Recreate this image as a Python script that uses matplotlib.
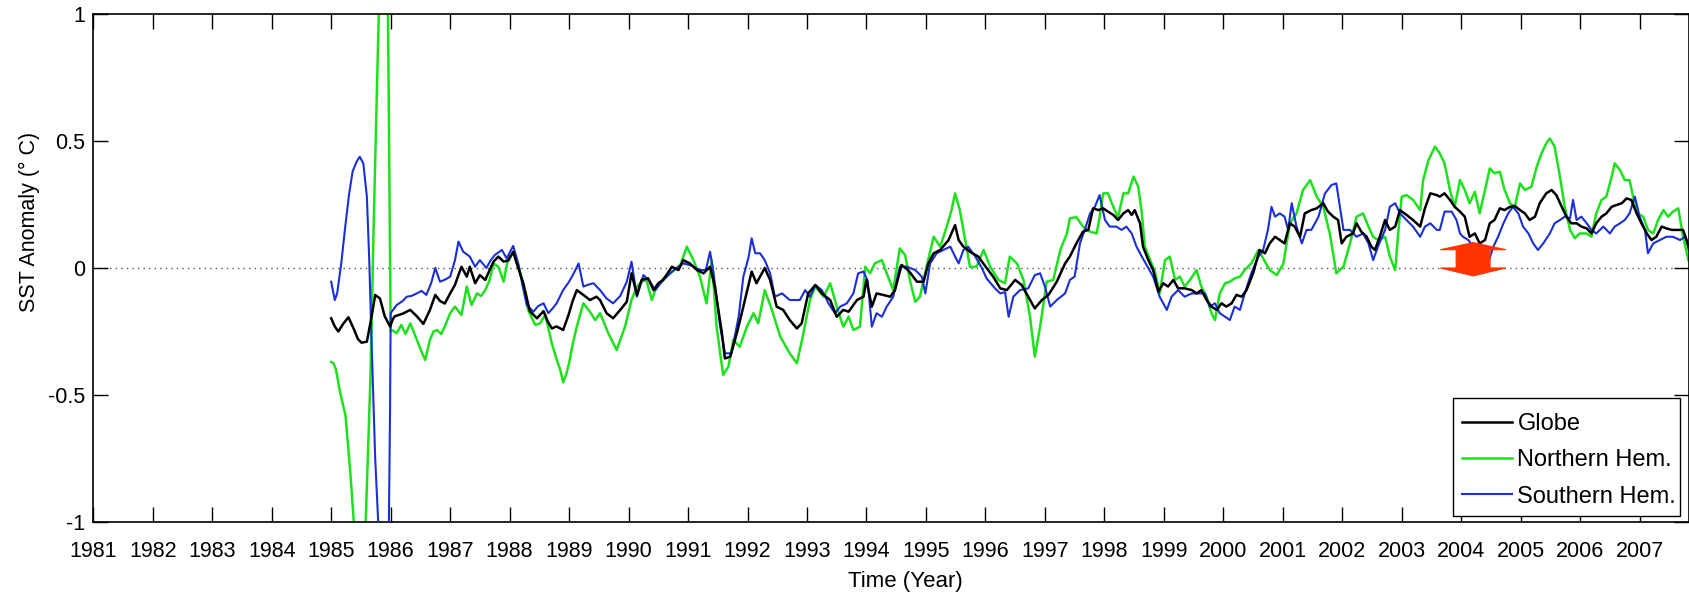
import numpy as np
import matplotlib
matplotlib.use('Agg')
import matplotlib.pyplot as plt
from matplotlib.patches import Polygon, Rectangle

plt.rcParams['font.family'] = ['Liberation Sans', 'DejaVu Sans']
plt.rcParams['axes.unicode_minus'] = False

# ── Globe ─────────────────────────────────────────────────────
globe_t = [
    1985.0, 1985.06, 1985.12, 1985.2, 1985.29, 1985.38, 1985.45, 1985.51, 1985.6, 1985.68,
    1985.74, 1985.82, 1985.9, 1985.99, 1986.04, 1986.07, 1986.2, 1986.33, 1986.44, 1986.55,
    1986.66, 1986.75, 1986.83, 1986.91, 1987.0, 1987.08, 1987.19, 1987.28, 1987.33, 1987.42,
    1987.5, 1987.59, 1987.66, 1987.73, 1987.81, 1987.9, 1987.98, 1988.06, 1988.12, 1988.23,
    1988.34, 1988.46, 1988.57, 1988.64, 1988.71, 1988.79, 1988.9, 1988.99, 1989.06, 1989.13,
    1989.24, 1989.35, 1989.46, 1989.52, 1989.63, 1989.74, 1989.86, 1989.97, 1990.05, 1990.14,
    1990.22, 1990.33, 1990.42, 1990.5, 1990.58, 1990.73, 1990.84, 1990.92, 1991.03, 1991.15,
    1991.26, 1991.37, 1991.45, 1991.57, 1991.62, 1991.71, 1991.82, 1991.93, 1992.07, 1992.15,
    1992.29, 1992.38, 1992.49, 1992.6, 1992.71, 1992.83, 1992.91, 1993.02, 1993.14, 1993.25,
    1993.39, 1993.5, 1993.61, 1993.7, 1993.84, 1993.95, 1994.0, 1994.09, 1994.17, 1994.28,
    1994.4, 1994.48, 1994.59, 1994.7, 1994.85, 1994.96, 1995.04, 1995.13, 1995.24, 1995.38,
    1995.49, 1995.55, 1995.63, 1995.74, 1995.88, 1996.02, 1996.13, 1996.25, 1996.36, 1996.5,
    1996.61, 1996.72, 1996.83, 1996.95, 1997.06, 1997.2, 1997.34, 1997.42, 1997.53, 1997.64,
    1997.73, 1997.81, 1997.9, 1997.98, 1998.06, 1998.15, 1998.23, 1998.32, 1998.4, 1998.46,
    1998.51, 1998.6, 1998.65, 1998.74, 1998.82, 1998.91, 1998.99, 1999.07, 1999.16, 1999.24,
    1999.35, 1999.47, 1999.55, 1999.63, 1999.72, 1999.8, 1999.89, 1999.97, 2000.05, 2000.14,
    2000.22, 2000.31, 2000.39, 2000.5, 2000.61, 2000.7, 2000.78, 2000.87, 2000.95, 2001.03,
    2001.12, 2001.2, 2001.29, 2001.37, 2001.48, 2001.57, 2001.68, 2001.76, 2001.85, 2001.93,
    2001.99, 2002.07, 2002.18, 2002.24, 2002.32, 2002.41, 2002.49, 2002.55, 2002.63, 2002.72,
    2002.8, 2002.89, 2002.97, 2003.08, 2003.19, 2003.31, 2003.39, 2003.48, 2003.59, 2003.64,
    2003.72, 2003.81, 2003.89, 2003.98, 2004.06, 2004.14, 2004.23, 2004.31, 2004.4, 2004.48,
    2004.56, 2004.65, 2004.73, 2004.82, 2004.9, 2004.99, 2005.07, 2005.15, 2005.24, 2005.32,
    2005.43, 2005.52, 2005.6, 2005.69, 2005.77, 2005.85, 2005.94, 2006.02, 2006.11, 2006.19,
    2006.27, 2006.36, 2006.44, 2006.53, 2006.61, 2006.7, 2006.78, 2006.86, 2006.95, 2007.03,
    2007.12, 2007.2, 2007.28, 2007.37, 2007.45, 2007.54, 2007.65, 2007.73, 2007.79, 2007.83,
]
globe_v = [
    -0.198, -0.23, -0.25, -0.22, -0.194, -0.24, -0.28, -0.294, -0.29, -0.19,
    -0.106, -0.12, -0.19, -0.23, -0.20, -0.19, -0.18, -0.165, -0.19, -0.22,
    -0.165, -0.106, -0.13, -0.14, -0.10, -0.067, 0.005, -0.034, 0.005, -0.06,
    -0.028, -0.047, -0.01, 0.025, 0.045, 0.025, 0.03, 0.064, 0.018, -0.06,
    -0.17, -0.198, -0.17, -0.21, -0.238, -0.23, -0.244, -0.185, -0.13, -0.087,
    -0.106, -0.126, -0.113, -0.126, -0.178, -0.198, -0.165, -0.133, -0.021, -0.106,
    -0.047, -0.041, -0.087, -0.06, -0.047, 0.005, -0.008, 0.031, 0.018, -0.008,
    -0.021, 0.005, -0.073, -0.257, -0.356, -0.349, -0.257, -0.152, -0.014, -0.06,
    0.0, -0.047, -0.152, -0.165, -0.205, -0.238, -0.218, -0.10, -0.067, -0.10,
    -0.126, -0.192, -0.165, -0.172, -0.126, -0.113, -0.047, -0.152, -0.10, -0.106,
    -0.113, -0.087, 0.012, -0.008, -0.054, -0.054, 0.018, 0.058, 0.071, 0.11,
    0.169, 0.11, 0.084, 0.064, 0.045, 0.0, -0.034, -0.08, -0.087, -0.047,
    -0.067, -0.113, -0.159, -0.126, -0.106, -0.054, 0.018, 0.045, 0.097, 0.143,
    0.15, 0.235, 0.228, 0.235, 0.222, 0.209, 0.189, 0.215, 0.228, 0.209,
    0.228, 0.176, 0.084, 0.031, -0.008, -0.093, -0.06, -0.073, -0.047, -0.08,
    -0.08, -0.087, -0.10, -0.087, -0.126, -0.152, -0.165, -0.139, -0.152, -0.139,
    -0.106, -0.113, -0.087, -0.021, 0.071, 0.058, 0.097, 0.123, 0.11, 0.097,
    0.176, 0.163, 0.123, 0.215, 0.228, 0.235, 0.255, 0.222, 0.202, 0.189,
    0.097, 0.123, 0.136, 0.176, 0.143, 0.123, 0.084, 0.071, 0.123, 0.189,
    0.15, 0.163, 0.228, 0.209, 0.189, 0.163, 0.235, 0.294, 0.287, 0.281,
    0.294, 0.268, 0.241, 0.222, 0.202, 0.123, 0.136, 0.097, 0.11, 0.176,
    0.189, 0.235, 0.228, 0.241, 0.244, 0.228, 0.215, 0.189, 0.202, 0.255,
    0.294, 0.307, 0.287, 0.241, 0.202, 0.176, 0.176, 0.163, 0.156, 0.136,
    0.176, 0.202, 0.215, 0.241, 0.248, 0.255, 0.274, 0.268, 0.215, 0.176,
    0.136, 0.11, 0.123, 0.163, 0.156, 0.15, 0.15, 0.15, 0.11, 0.071,
]

# ── Northern Hemisphere ───────────────────────────────────────
north_t = [
    1985.0, 1985.04, 1985.08, 1985.15, 1985.24, 1985.32, 1985.38, 1985.45, 1985.52, 1985.58,
    1985.66, 1985.72, 1985.8, 1985.86, 1985.93, 1985.955, 1985.98, 1986.0, 1986.02, 1986.1,
    1986.18, 1986.25, 1986.33, 1986.44, 1986.52, 1986.58, 1986.66, 1986.72, 1986.78, 1986.85,
    1986.91, 1987.0, 1987.08, 1987.19, 1987.28, 1987.36, 1987.45, 1987.52, 1987.59, 1987.66,
    1987.73, 1987.81, 1987.9, 1987.98, 1988.09, 1988.17, 1988.24, 1988.31, 1988.43, 1988.51,
    1988.6, 1988.71, 1988.79, 1988.85, 1988.9, 1988.95, 1989.0, 1989.06, 1989.13, 1989.24,
    1989.35, 1989.44, 1989.52, 1989.66, 1989.8, 1989.94, 1990.05, 1990.14, 1990.22, 1990.3,
    1990.39, 1990.47, 1990.59, 1990.7, 1990.87, 1990.98, 1991.09, 1991.2, 1991.31, 1991.4,
    1991.48, 1991.59, 1991.68, 1991.76, 1991.87, 1991.99, 1992.1, 1992.18, 1992.29, 1992.41,
    1992.55, 1992.71, 1992.83, 1992.94, 1993.05, 1993.14, 1993.28, 1993.39, 1993.5, 1993.61,
    1993.7, 1993.78, 1993.89, 1993.98, 1994.06, 1994.14, 1994.26, 1994.34, 1994.45, 1994.56,
    1994.65, 1994.73, 1994.82, 1994.9, 1995.01, 1995.13, 1995.24, 1995.35, 1995.43, 1995.49,
    1995.57, 1995.66, 1995.74, 1995.85, 1995.97, 1996.08, 1996.22, 1996.33, 1996.41, 1996.53,
    1996.64, 1996.75, 1996.83, 1996.92, 1997.03, 1997.14, 1997.26, 1997.37, 1997.42, 1997.53,
    1997.64, 1997.76, 1997.87, 1997.92, 1997.98, 1998.06, 1998.15, 1998.23, 1998.32, 1998.4,
    1998.49, 1998.57, 1998.63, 1998.68, 1998.77, 1998.85, 1998.93, 1999.02, 1999.1, 1999.19,
    1999.27, 1999.35, 1999.44, 1999.55, 1999.63, 1999.72, 1999.8, 1999.86, 1999.94, 2000.03,
    2000.11, 2000.19, 2000.28, 2000.36, 2000.47, 2000.59, 2000.67, 2000.78, 2000.9, 2001.01,
    2001.12, 2001.23, 2001.34, 2001.46, 2001.57, 2001.68, 2001.79, 2001.9, 2002.02, 2002.13,
    2002.24, 2002.35, 2002.44, 2002.52, 2002.6, 2002.72, 2002.8, 2002.89, 2002.94, 2003.0,
    2003.08, 2003.19, 2003.31, 2003.36, 2003.45, 2003.56, 2003.64, 2003.72, 2003.81, 2003.89,
    2003.98, 2004.06, 2004.14, 2004.23, 2004.31, 2004.4, 2004.48, 2004.56, 2004.65, 2004.73,
    2004.82, 2004.9, 2004.99, 2005.07, 2005.18, 2005.27, 2005.35, 2005.43, 2005.49, 2005.57,
    2005.66, 2005.74, 2005.83, 2005.91, 2005.99, 2006.11, 2006.19, 2006.27, 2006.36, 2006.44,
    2006.53, 2006.58, 2006.67, 2006.75, 2006.83, 2006.89, 2006.97, 2007.06, 2007.14, 2007.23,
    2007.31, 2007.4, 2007.48, 2007.56, 2007.65, 2007.73, 2007.82,
]
north_v = [
    -0.37, -0.375, -0.40, -0.49, -0.58, -0.80, -1.0, -1.25, -1.2, -1.0,
    -0.43, 0.23, 1.0, 1.4, 1.3, 1.0, 0.3, -0.25, -0.244, -0.257,
    -0.224, -0.26, -0.218, -0.283, -0.33, -0.362, -0.283, -0.25, -0.244, -0.26,
    -0.23, -0.178, -0.152, -0.185, -0.073, -0.146, -0.10, -0.11, -0.087, -0.05,
    0.018, 0.005, -0.054, 0.045, 0.058, -0.008, -0.09, -0.165, -0.224, -0.218,
    -0.185, -0.297, -0.36, -0.40, -0.45, -0.42, -0.375, -0.30, -0.23, -0.139,
    -0.172, -0.205, -0.178, -0.257, -0.323, -0.231, -0.126, -0.073, -0.054, -0.047,
    -0.126, -0.073, -0.041, -0.021, 0.012, 0.084, 0.031, -0.034, -0.139, 0.031,
    -0.231, -0.421, -0.388, -0.283, -0.31, -0.231, -0.178, -0.218, -0.087, -0.165,
    -0.27, -0.336, -0.375, -0.257, -0.126, -0.073, -0.113, -0.06, -0.152, -0.231,
    -0.192, -0.244, -0.231, 0.005, -0.021, 0.018, 0.031, -0.021, -0.087, 0.077,
    0.051, -0.047, -0.133, -0.113, 0.005, 0.123, 0.084, 0.163, 0.228, 0.294,
    0.228, 0.11, 0.005, 0.005, 0.071, 0.005, -0.047, -0.06, 0.045, 0.018,
    -0.047, -0.192, -0.349, -0.231, -0.054, -0.047, 0.071, 0.136, 0.196, 0.20,
    0.163, 0.143, 0.136, 0.20, 0.294, 0.294, 0.241, 0.20, 0.294, 0.294,
    0.36, 0.32, 0.215, 0.084, 0.031, -0.014, -0.10, 0.031, 0.045, -0.047,
    -0.034, -0.073, -0.047, -0.008, -0.073, -0.113, -0.178, -0.205, -0.10, -0.06,
    -0.054, -0.041, -0.034, -0.008, 0.018, 0.071, 0.038, -0.008, -0.028, 0.018,
    0.176, 0.215, 0.307, 0.346, 0.281, 0.241, 0.136, -0.021, 0.005, 0.097,
    0.202, 0.215, 0.163, 0.123, 0.11, 0.123, 0.045, -0.008, 0.136, 0.281,
    0.287, 0.268, 0.228, 0.346, 0.425, 0.478, 0.451, 0.412, 0.307, 0.241,
    0.346, 0.307, 0.255, 0.30, 0.215, 0.307, 0.392, 0.373, 0.379, 0.307,
    0.255, 0.241, 0.333, 0.307, 0.32, 0.399, 0.451, 0.491, 0.51, 0.478,
    0.36, 0.241, 0.15, 0.117, 0.136, 0.136, 0.123, 0.215, 0.268, 0.281,
    0.36, 0.412, 0.386, 0.346, 0.346, 0.281, 0.215, 0.202, 0.15, 0.136,
    0.189, 0.228, 0.202, 0.222, 0.235, 0.123, 0.031,
]

# ── Southern Hemisphere ───────────────────────────────────────
south_t = [
    1985.0, 1985.06, 1985.1, 1985.17, 1985.23, 1985.3, 1985.36, 1985.43, 1985.48, 1985.54,
    1985.6, 1985.64, 1985.68, 1985.74, 1985.8, 1985.87, 1985.93, 1985.97, 1985.99, 1986.0,
    1986.1, 1986.2, 1986.27, 1986.35, 1986.44, 1986.52, 1986.6, 1986.68, 1986.75, 1986.83,
    1986.92, 1987.0, 1987.08, 1987.14, 1987.22, 1987.33, 1987.42, 1987.5, 1987.61, 1987.68,
    1987.75, 1987.87, 1987.95, 1988.06, 1988.15, 1988.22, 1988.29, 1988.4, 1988.48, 1988.57,
    1988.65, 1988.72, 1988.79, 1988.9, 1989.0, 1989.08, 1989.16, 1989.24, 1989.33, 1989.41,
    1989.52, 1989.63, 1989.74, 1989.86, 1989.97, 1990.05, 1990.14, 1990.25, 1990.35, 1990.45,
    1990.56, 1990.7, 1990.81, 1990.92, 1991.05, 1991.2, 1991.3, 1991.37, 1991.43, 1991.54,
    1991.62, 1991.73, 1991.85, 1991.93, 1992.02, 1992.07, 1992.13, 1992.21, 1992.29, 1992.38,
    1992.46, 1992.58, 1992.71, 1992.88, 1992.97, 1993.05, 1993.14, 1993.25, 1993.36, 1993.47,
    1993.56, 1993.67, 1993.78, 1993.86, 1993.95, 1994.02, 1994.09, 1994.17, 1994.26, 1994.34,
    1994.45, 1994.56, 1994.68, 1994.82, 1994.93, 1994.99, 1995.07, 1995.18, 1995.29, 1995.41,
    1995.49, 1995.55, 1995.63, 1995.71, 1995.83, 1995.94, 1996.02, 1996.16, 1996.25, 1996.33,
    1996.39, 1996.47, 1996.58, 1996.72, 1996.83, 1996.92, 1997.0, 1997.09, 1997.2, 1997.34,
    1997.42, 1997.5, 1997.59, 1997.67, 1997.76, 1997.84, 1997.92, 1998.01, 1998.09, 1998.2,
    1998.29, 1998.37, 1998.46, 1998.54, 1998.63, 1998.71, 1998.82, 1998.93, 1999.05, 1999.13,
    1999.24, 1999.35, 1999.47, 1999.58, 1999.69, 1999.77, 1999.86, 1999.94, 2000.03, 2000.11,
    2000.19, 2000.28, 2000.36, 2000.47, 2000.59, 2000.67, 2000.75, 2000.81, 2000.87, 2000.95,
    2001.03, 2001.09, 2001.15, 2001.23, 2001.32, 2001.4, 2001.48, 2001.6, 2001.71, 2001.82,
    2001.9, 2001.96, 2002.02, 2002.13, 2002.24, 2002.35, 2002.44, 2002.52, 2002.6, 2002.72,
    2002.8, 2002.89, 2002.97, 2003.08, 2003.19, 2003.31, 2003.39, 2003.48, 2003.59, 2003.64,
    2003.72, 2003.84, 2003.92, 2003.98, 2004.03, 2004.12, 2004.2, 2004.28, 2004.37, 2004.45,
    2004.54, 2004.62, 2004.71, 2004.79, 2004.87, 2004.96, 2005.04, 2005.13, 2005.21, 2005.29,
    2005.38, 2005.49, 2005.57, 2005.66, 2005.74, 2005.83, 2005.88, 2005.94, 2006.02, 2006.11,
    2006.19, 2006.27, 2006.39, 2006.5, 2006.58, 2006.67, 2006.75, 2006.83, 2006.92, 2007.0,
    2007.09, 2007.14, 2007.23, 2007.34, 2007.45, 2007.56, 2007.68, 2007.76, 2007.83,
]
south_v = [
    -0.054, -0.126, -0.10, 0.02, 0.15, 0.29, 0.38, 0.42, 0.438, 0.412,
    0.28, 0.03, -0.30, -0.75, -1.05, -1.35, -1.25, -1.0, -0.55, -0.178,
    -0.146, -0.13, -0.113, -0.11, -0.10, -0.09, -0.106, -0.06, 0.0, -0.054,
    -0.045, -0.034, 0.03, 0.104, 0.064, 0.045, 0.005, 0.031, 0.0, 0.03,
    0.051, 0.071, 0.038, 0.087, 0.012, -0.07, -0.146, -0.172, -0.15, -0.139,
    -0.178, -0.16, -0.139, -0.087, -0.054, -0.02, 0.018, -0.073, -0.065, -0.06,
    -0.087, -0.12, -0.139, -0.11, -0.054, 0.025, -0.113, -0.028, -0.05, -0.087,
    -0.054, -0.021, 0.0, 0.018, 0.01, -0.008, -0.008, 0.064, -0.021, -0.231,
    -0.336, -0.336, -0.192, -0.034, 0.045, 0.117, 0.058, 0.058, 0.031, -0.021,
    -0.113, -0.10, -0.126, -0.126, -0.087, -0.113, -0.067, -0.087, -0.139, -0.178,
    -0.152, -0.139, -0.10, -0.021, -0.014, -0.05, -0.231, -0.178, -0.192, -0.152,
    -0.113, 0.005, 0.005, -0.008, -0.034, -0.10, 0.018, 0.058, 0.071, 0.084,
    0.045, 0.018, 0.071, 0.084, 0.045, 0.0, -0.041, -0.08, -0.10, -0.095,
    -0.192, -0.113, -0.087, -0.08, -0.028, -0.021, -0.073, -0.152, -0.126, -0.10,
    -0.047, -0.034, 0.097, 0.15, 0.215, 0.241, 0.287, 0.189, 0.163, 0.163,
    0.15, 0.163, 0.136, 0.084, 0.045, 0.012, -0.034, -0.113, -0.165, -0.113,
    -0.087, -0.113, -0.10, -0.10, -0.10, -0.152, -0.139, -0.178, -0.192, -0.205,
    -0.152, -0.165, -0.10, -0.021, 0.045, 0.071, 0.15, 0.241, 0.202, 0.215,
    0.202, 0.15, 0.255, 0.163, 0.097, 0.15, 0.15, 0.202, 0.294, 0.327,
    0.333, 0.241, 0.15, 0.15, 0.123, 0.136, 0.097, 0.031, 0.084, 0.15,
    0.241, 0.255, 0.215, 0.189, 0.163, 0.123, 0.163, 0.176, 0.15, 0.15,
    0.222, 0.222, 0.189, 0.136, 0.123, 0.11, 0.084, 0.058, 0.031, 0.018,
    0.084, 0.123, 0.176, 0.215, 0.241, 0.215, 0.163, 0.136, 0.097, 0.071,
    0.097, 0.136, 0.176, 0.189, 0.202, 0.196, 0.268, 0.189, 0.202, 0.176,
    0.15, 0.136, 0.163, 0.136, 0.163, 0.176, 0.189, 0.215, 0.281, 0.202,
    0.15, 0.058, 0.097, 0.11, 0.123, 0.123, 0.11, 0.123, 0.084,
]

year_ticks = list(range(1981, 2008))
y_ticks = [-1, -0.5, 0, 0.5, 1]
y_ticklabels = ['-1', '-0.5', '0', '0.5', '1']

# red double arrow marker (data coords)
arrow_x, arrow_half_head, arrow_half_body = 2004.2, 0.55, 0.285
arrow_top, arrow_top_base, arrow_bot_base, arrow_bot = 0.10, 0.072, 0.0, -0.031

GREEN = '#1ee11e'
BLUE = '#1a2fd6'

# ── Figure ────────────────────────────────────────────────────
fig = plt.figure(figsize=(16.89, 5.92), dpi=100)
ax = fig.add_axes([0.05524, 0.11824, 0.94476, 0.85811])

ax.axhline(0, color='0.35', linestyle=(0, (1, 3)), linewidth=1.0, zorder=1)

ax.plot(north_t, north_v, color=GREEN, linewidth=1.8, zorder=2)
ax.plot(south_t, south_v, color=BLUE, linewidth=1.5, zorder=3)
ax.plot(globe_t, globe_v, color='black', linewidth=1.8, zorder=4)

xl = arrow_x - arrow_half_head
xr = arrow_x + arrow_half_head
bl = arrow_x - arrow_half_body
br = arrow_x + arrow_half_body
arrow_pts = [
    (arrow_x, arrow_top), (xr, arrow_top_base), (br, arrow_top_base),
    (br, arrow_bot_base), (xr, arrow_bot_base), (arrow_x, arrow_bot),
    (xl, arrow_bot_base), (bl, arrow_bot_base), (bl, arrow_top_base),
    (xl, arrow_top_base),
]
ax.add_patch(Polygon(arrow_pts, closed=True, facecolor='#ff3300',
                     edgecolor='#ff3300', linewidth=0.8, zorder=5))

# legend: tight MATLAB-style box drawn by hand, entries from proxy lines
ax.add_patch(Rectangle((0.8521, 0.0118), 0.1423, 0.2323, transform=ax.transAxes,
                       facecolor='white', edgecolor='black', linewidth=1.0,
                       zorder=9))
h_g, = ax.plot([], [], color='black', linewidth=1.8, label='Globe')
h_n, = ax.plot([], [], color=GREEN, linewidth=1.8, label='Northern Hem.')
h_s, = ax.plot([], [], color=BLUE, linewidth=1.5, label='Southern Hem.')
leg = ax.legend(handles=[h_g, h_n, h_s], loc='upper left',
                bbox_to_anchor=(0.8577, 0.214), borderaxespad=0, borderpad=0,
                fontsize=17, frameon=False, handlelength=2.1,
                handletextpad=0.25, labelspacing=0.6)
leg.set_zorder(10)

ax.set_xlim(1981, 2007.83)
ax.set_ylim(-1, 1)
ax.set_xticks(year_ticks)
ax.set_xticklabels([str(y) for y in year_ticks])
ax.set_yticks(y_ticks)
ax.set_yticklabels(y_ticklabels)
ax.tick_params(direction='in', top=True, right=True, length=11, width=1.0,
               labelsize=15.5, colors='black')
ax.tick_params(axis='x', pad=14)
ax.tick_params(axis='y', pad=6)
for sp in ax.spines.values():
    sp.set_linewidth(1.2)

ax.set_xlabel('Time (Year)', fontsize=16)
ax.set_ylabel('SST Anomaly (° C)', fontsize=15.5)
ax.xaxis.set_label_coords(0.509, -0.0965)
ax.yaxis.set_label_coords(-0.0334, 0.59)

fig.savefig('out.png', dpi=100)
plt.close(fig)
